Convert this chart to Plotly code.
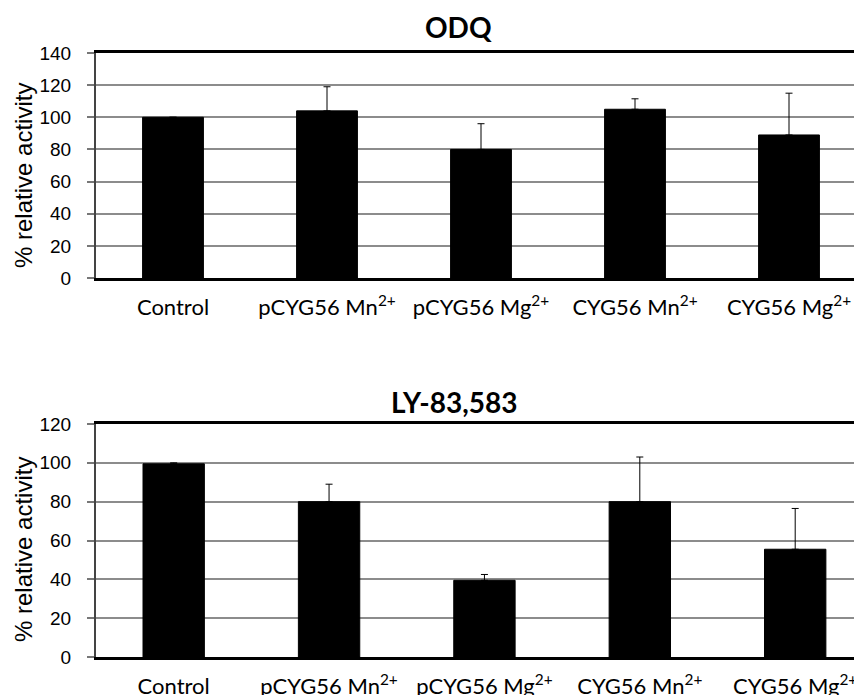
import plotly.graph_objects as go

categories = ["Control", "pCYG56 Mn<sup>2+</sup>", "pCYG56 Mg<sup>2+</sup>",
              "CYG56 Mn<sup>2+</sup>", "CYG56 Mg<sup>2+</sup>"]

odq_values = [100, 104, 80, 105, 89]
odq_errors = [0, 15, 16, 6.5, 26]

ly_values = [99.5, 80, 39.5, 80, 55.5]
ly_errors = [0.5, 9, 3, 23, 21]

odq_ticks = [0, 20, 40, 60, 80, 100, 120, 140]
ly_ticks = [0, 20, 40, 60, 80, 100, 120]

# page body has an 8px default margin; work in screen pixels and convert
OFF = 8
W, H = 862 - OFF, 695 - OFF
L = 96 - OFF

def bar(x, y, err, xa, ya):
    return go.Bar(
        x=x, y=y, xaxis=xa, yaxis=ya,
        marker=dict(color="black", line=dict(color="black", width=1)),
        error_y=dict(type="data", array=err, arrayminus=[0] * len(err),
                     symmetric=False, color="black", thickness=1, width=3.5),
        showlegend=False,
    )

fig = go.Figure()
fig.add_trace(bar(categories, odq_values, odq_errors, "x", "y"))
fig.add_trace(bar(categories, ly_values, ly_errors, "x2", "y2"))

tickfont_y = dict(family="Liberation Sans, Arial", size=19, color="black")
tickfont_x = dict(family="Lato, Open Sans", size=22, color="black")

common_x = dict(
    type="category", showline=True, linecolor="black", linewidth=3, mirror=True,
    ticks="", showgrid=False, tickfont=tickfont_x, ticklabelstandoff=8,
    fixedrange=True, automargin=False,
)
common_y = dict(
    showline=True, linecolor="#444", linewidth=2, ticks="outside", ticklen=7,
    tickcolor="#777", tickwidth=1.5, showgrid=True, gridcolor="#8c8c8c",
    gridwidth=1.5, tickfont=tickfont_y, ticklabelstandoff=12, zeroline=False,
    automargin=False,
)

def py(s):
    return 1 - (s - OFF) / H

def px_x(s):
    return (s - OFF - L) / (W - L)

fig.update_layout(
    width=W, height=H,
    margin=dict(l=L, r=0, t=0, b=0, autoexpand=False),
    paper_bgcolor="white", plot_bgcolor="white",
    bargap=0.605,
    xaxis=dict(common_x, domain=[0, 1], anchor="y", range=[-0.5, 4.474]),
    yaxis=dict(common_y, domain=[py(278), py(53)], anchor="x", range=[0, 140],
               tickvals=odq_ticks),
    xaxis2=dict(common_x, domain=[0, 1], anchor="y2", range=[-0.5, 4.43]),
    yaxis2=dict(common_y, domain=[py(657), py(424)], anchor="x2", range=[0, 120],
                tickvals=ly_ticks),
)

title_font = dict(family="Lato, Open Sans", size=28, color="black")
axis_title_font = dict(family="Liberation Sans, Arial", size=24, color="black")

fig.add_annotation(text="<b>ODQ</b>", x=px_x(458), y=py(27), xref="paper", yref="paper",
                   showarrow=False, font=title_font, xanchor="center", yanchor="middle")
fig.add_annotation(text="<b>LY-83,583</b>", x=px_x(454), y=py(402), xref="paper", yref="paper",
                   showarrow=False, font=title_font, xanchor="center", yanchor="middle")
fig.add_annotation(text="% relative activity", x=px_x(23), y=py(176), xref="paper", yref="paper",
                   showarrow=False, font=axis_title_font, textangle=-90,
                   xanchor="center", yanchor="middle")
fig.add_annotation(text="% relative activity", x=px_x(23), y=py(550), xref="paper", yref="paper",
                   showarrow=False, font=axis_title_font, textangle=-90,
                   xanchor="center", yanchor="middle")

fig.write_html("out.html")
